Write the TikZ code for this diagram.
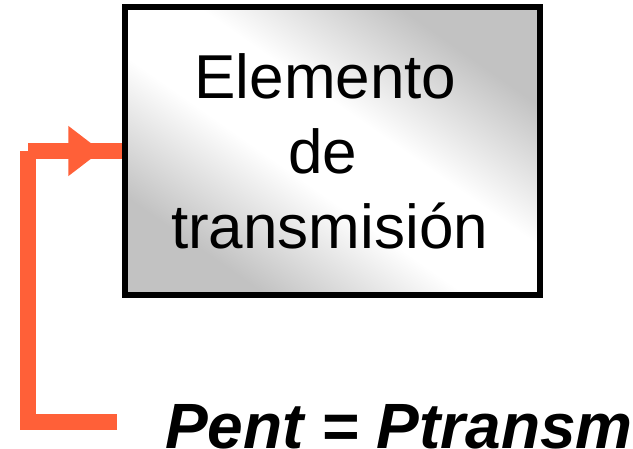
\documentclass[tikz,border=0pt]{standalone}
\usepackage{fontspec}
\setmainfont{Liberation Sans}
\usetikzlibrary{arrows.meta,decorations.markings}
\definecolor{naranja}{RGB}{255,96,56}
\pgfdeclareverticalshading{banda}{100bp}{color(0bp)=(gray!48); color(27bp)=(gray!48);
  color(44bp)=(white); color(56bp)=(white); color(73bp)=(gray!48); color(100bp)=(gray!48)}
\begin{document}
\begin{tikzpicture}[x=1pt,y=1pt,
  bloque/.style={draw, line width=6pt, shading=banda, shading angle=-35,
    minimum width=415pt, minimum height=288pt,
    inner sep=0pt, align=center, font=\fontsize{62}{75}\selectfont},
  retorno/.style={draw=naranja, line width=16pt, line join=miter}]
  \useasboundingbox (0,0) rectangle (633,448);

  % Elemento
  \node[bloque] (elem) at (332.5,297)
    {Elemento\kern14pt\\de\kern20pt\\transmisión\kern6pt};

  % lazo de entrada
  \coordinate (cola) at (117,26);
  \coordinate (esq) at (28,26);
  \coordinate (giro) at (28,297);
  \draw[retorno] (cola) -- (esq) -- (giro);
  \draw[retorno, postaction={decorate}, decoration={markings,
    mark=at position 0.78 with {\arrow[naranja]{Triangle[length=33pt,width=48pt]}}}]
    (giro) -- (elem.west);

  % relacion
  \node[anchor=base, font=\fontsize{64}{64}\bfseries\itshape\selectfont] (rel) at (399,0) {Pent = Ptransm};
\end{tikzpicture}
\end{document}
